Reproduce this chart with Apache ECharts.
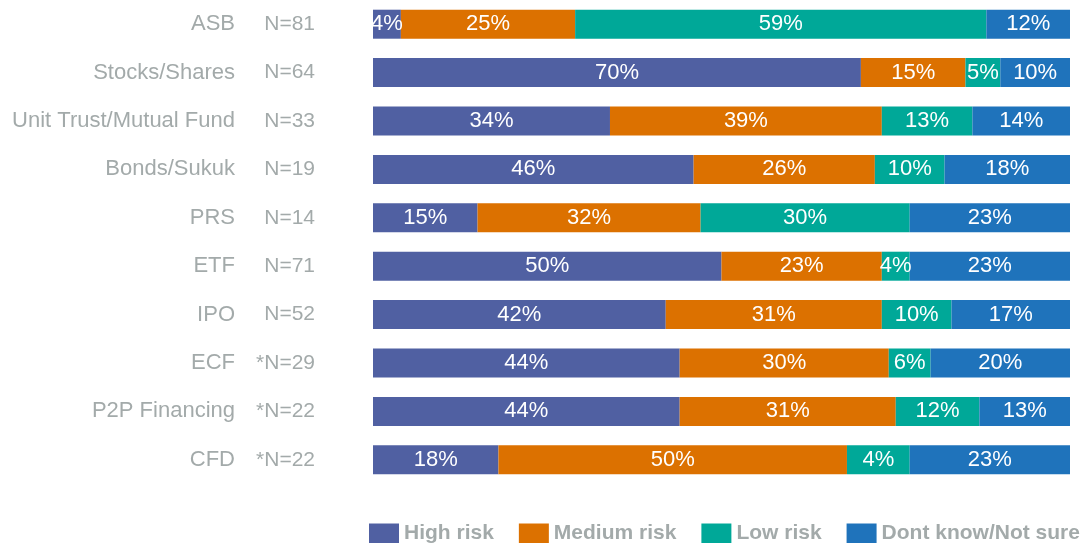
<!DOCTYPE html>
<html><head><meta charset="utf-8">
<script src="https://cdn.jsdelivr.net/npm/echarts@6/dist/echarts.min.js"></script>
<style>html,body{margin:0;padding:0;background:#fff}#c{width:1090px;height:543px}</style>
</head><body><div id="c"></div>
<script>
const categories = ['ASB','Stocks/Shares','Unit Trust/Mutual Fund','Bonds/Sukuk','PRS','ETF','IPO','ECF','P2P Financing','CFD'];
const sampleSizes = ['N=81','N=64','N=33','N=19','N=14','N=71','N=52','*N=29','*N=22','*N=22'];
const seriesNames = ['High risk','Medium risk','Low risk','Dont know/Not sure'];
const highRisk = [4,70,34,46,15,50,42,44,44,18];
const mediumRisk = [25,15,39,26,32,23,31,30,31,50];
const lowRisk = [59,5,13,10,30,4,10,6,12,9];
const dontKnow = [12,10,14,18,23,23,17,20,13,23];
// printed labels (the CFD low-risk label reads 4% in the source)
const lowRiskLabels = ['59%','5%','13%','10%','30%','4%','10%','6%','12%','4%'];
const colors = ['#5060A2','#DC7100','#00A898','#1F73BB'];

const FONT = '"Liberation Sans",Arial,Helvetica,sans-serif';
const chart = echarts.init(document.getElementById('c'));
const mk = (name, data, color, labels) => ({
  name, type:'bar', stack:'t', data, barWidth:29,
  itemStyle:{color},
  label:{show:true, position:'inside', color:'#fff',
    fontFamily:FONT, fontSize:22,
    formatter: p => labels ? labels[p.dataIndex] : p.value + '%'}
});
chart.setOption({
  animation:false,
  grid:{left:373, right:20, top:0, height:484},
  legend:{left:369, top:523, padding:0, itemWidth:30, itemHeight:20, itemGap:25,
    icon:'rect',
    textStyle:{color:'#A3AAAA', fontSize:21, fontWeight:'bold', fontFamily:FONT}},
  xAxis:{type:'value', min:0, max:100, show:false},
  yAxis:{type:'category', inverse:true, data:categories,
    axisLine:{show:false}, axisTick:{show:false},
    axisLabel:{margin:58, align:'right',
      formatter:(v,i)=>'{a|'+v+'}{n|'+sampleSizes[i]+'}',
      rich:{
        a:{color:'#A3AAAA', fontSize:22, fontFamily:FONT},
        n:{color:'#A3AAAA', fontSize:21, width:80, align:'right', fontFamily:FONT}
      }}},
  series:[
    mk(seriesNames[0], highRisk, colors[0]),
    mk(seriesNames[1], mediumRisk, colors[1]),
    mk(seriesNames[2], lowRisk, colors[2], lowRiskLabels),
    mk(seriesNames[3], dontKnow, colors[3])
  ]
});
</script></body></html>
